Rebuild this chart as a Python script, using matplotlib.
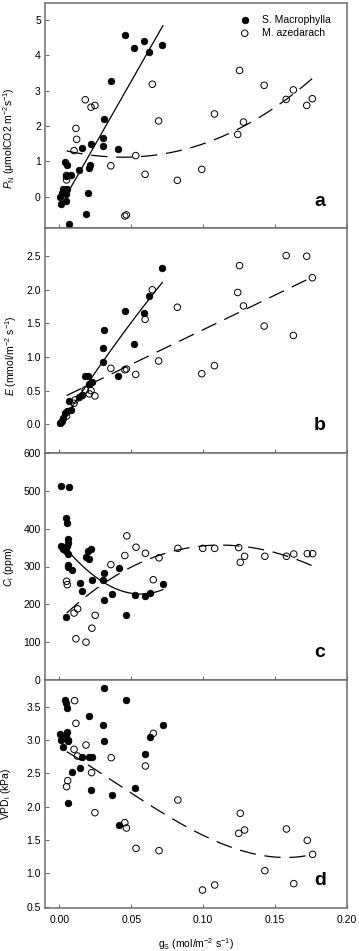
import numpy as np
import matplotlib
matplotlib.use('Agg')
import matplotlib.pyplot as plt

plt.rcParams['font.family'] = ['Liberation Sans', 'DejaVu Sans']
plt.rcParams['mathtext.fontset'] = 'custom'
plt.rcParams['mathtext.rm'] = 'Liberation Sans'
plt.rcParams['mathtext.it'] = 'Liberation Sans:italic'
plt.rcParams['mathtext.bf'] = 'Liberation Sans:bold'

# ---- panel a: PN vs gs ----
a_mac_gs = [0.0005, 0.0012, 0.0021, 0.0028, 0.0039, 0.0044, 0.0044, 0.0051, 0.0051, 0.0046,
            0.0067, 0.0078, 0.0136, 0.0155, 0.0182, 0.0201, 0.0208, 0.0215, 0.0219, 0.0300,
            0.0305, 0.0307, 0.0362, 0.0409, 0.0459, 0.0522, 0.0591, 0.0626, 0.0713]
a_mac_pn = [0.00, -0.21, 0.10, 0.20, 0.97, -0.12, 0.08, 0.88, 0.22, 0.57,
            -0.77, 0.61, 0.75, 1.37, -0.49, 0.11, 0.80, 0.90, 1.49, 1.67,
            1.42, 2.20, 3.27, 1.36, 4.58, 4.22, 4.41, 4.08, 4.29]
a_aze_gs = [0.0050, 0.0050, 0.0102, 0.0115, 0.0120, 0.0180, 0.0220, 0.0247, 0.0358, 0.0455,
            0.0466, 0.0531, 0.0596, 0.0646, 0.0690, 0.0820, 0.0990, 0.1078, 0.1240, 0.1253,
            0.1280, 0.1424, 0.1577, 0.1627, 0.1720, 0.1759]
a_aze_pn = [0.47, 0.60, 1.30, 1.93, 1.62, 2.74, 2.53, 2.58, 0.87, -0.55,
            -0.52, 1.16, 0.63, 3.18, 2.14, 0.46, 0.77, 2.34, 1.76, 3.57,
            2.11, 3.15, 2.75, 3.02, 2.58, 2.77]
a_mac_fit_x = [0.006, 0.072]
a_mac_fit_y = [0.12, 4.84]
a_aze_fit_x = [0.005, 0.040, 0.074, 0.124, 0.176]
a_aze_fit_y = [1.30, 1.09, 1.25, 1.89, 3.35]

# ---- panel b: E vs gs ----
b_mac_gs = [0.0005, 0.0010, 0.0020, 0.0028, 0.0040, 0.0050, 0.0067, 0.0080, 0.0136, 0.0155,
            0.0180, 0.0200, 0.0208, 0.0224, 0.0300, 0.0310, 0.0305, 0.0410, 0.0459, 0.0520,
            0.0590, 0.0626, 0.0716]
b_mac_e = [0.015, 0.03, 0.05, 0.09, 0.16, 0.19, 0.34, 0.21, 0.41, 0.44,
           0.71, 0.71, 0.60, 0.62, 1.14, 1.40, 0.92, 0.72, 1.68, 1.20,
           1.65, 1.91, 2.32]
b_aze_gs = [0.0050, 0.0102, 0.0110, 0.0180, 0.0208, 0.0220, 0.0247, 0.0358, 0.0455, 0.0466,
            0.0531, 0.0596, 0.0646, 0.0690, 0.0820, 0.0990, 0.1078, 0.1240, 0.1253, 0.1280,
            0.1424, 0.1577, 0.1627, 0.1720, 0.1759]
b_aze_e = [0.12, 0.31, 0.36, 0.51, 0.45, 0.50, 0.42, 0.83, 0.81, 0.82,
           0.74, 1.56, 2.00, 0.94, 1.74, 0.75, 0.87, 1.96, 2.36, 1.76,
           1.46, 2.51, 1.32, 2.50, 2.18]
b_mac_fit_x = [0.0028, 0.0305, 0.0716]
b_mac_fit_y = [0.064, 0.94, 2.11]
b_aze_fit_x = [0.005, 0.176]
b_aze_fit_y = [0.425, 2.19]

# ---- panel c: Ci vs gs ----
c_mac_gs = [0.0012, 0.0069, 0.0044, 0.0050, 0.0010, 0.0023, 0.0032, 0.0058, 0.0058, 0.0050,
            0.0044, 0.0058, 0.0062, 0.0058, 0.0085, 0.0046, 0.0143, 0.0160, 0.0185, 0.0200,
            0.0220, 0.0208, 0.0226, 0.0307, 0.0305, 0.0312, 0.0367, 0.0416, 0.0466, 0.0526,
            0.0598, 0.0633, 0.0720]
c_mac_ci = [513, 511, 427, 414, 354, 345, 345, 372, 363, 354,
            342, 334, 305, 299, 290, 166, 257, 235, 325, 341,
            347, 320, 263, 283, 265, 211, 228, 295, 172, 224,
            221, 230, 255]
c_aze_gs = [0.0050, 0.0055, 0.0102, 0.0127, 0.0115, 0.0185, 0.0226, 0.0249, 0.0358, 0.0455,
            0.0469, 0.0533, 0.0598, 0.0653, 0.0693, 0.0824, 0.0997, 0.1080, 0.1247, 0.1258,
            0.1288, 0.1429, 0.1579, 0.1630, 0.1724, 0.1761]
c_aze_ci = [261, 252, 177, 188, 109, 100, 137, 171, 305, 329,
            381, 351, 335, 265, 323, 348, 348, 348, 350, 311,
            327, 327, 327, 333, 334, 334]
c_mac_fit_x = [0.0051, 0.0316, 0.0524, 0.072]
c_mac_fit_y = [345, 256, 228, 239]
c_aze_fit_x = [0.0051, 0.0316, 0.050, 0.0767, 0.1136, 0.146, 0.1759]
c_aze_fit_y = [177, 256, 301, 336, 358, 340, 302]

# ---- panel d: VPDl vs gs ----
d_mac_gs = [0.0005, 0.0012, 0.0023, 0.0040, 0.0044, 0.0050, 0.0050, 0.0044, 0.0058, 0.0062,
            0.0058, 0.0085, 0.0143, 0.0157, 0.0208, 0.0208, 0.0226, 0.0220, 0.0312, 0.0305,
            0.0307, 0.0367, 0.0416, 0.0462, 0.0526, 0.0598, 0.0630, 0.0718]
d_mac_vpd = [3.085, 3.00, 2.90, 3.60, 3.55, 3.475, 3.125, 3.075, 3.00, 2.98,
             2.05, 2.525, 2.585, 2.74, 3.365, 2.74, 2.74, 2.25, 3.775, 3.22,
             2.98, 2.175, 1.725, 3.60, 2.285, 2.79, 3.05, 3.225]
d_aze_gs = [0.0050, 0.0058, 0.0106, 0.0102, 0.0115, 0.0125, 0.0185, 0.0224, 0.0247, 0.0360,
            0.0455, 0.0466, 0.0533, 0.0598, 0.0653, 0.0693, 0.0824, 0.0995, 0.1080, 0.1247,
            0.1258, 0.1288, 0.1429, 0.1579, 0.1630, 0.1724, 0.1761]
d_aze_vpd = [2.30, 2.39, 3.59, 2.86, 3.25, 2.76, 2.925, 2.51, 1.91, 2.735,
             1.76, 1.68, 1.375, 2.61, 3.10, 1.34, 2.10, 0.75, 0.825, 1.60,
             1.90, 1.65, 1.04, 1.665, 0.845, 1.495, 1.285]
d_aze_fit_x = [0.0051, 0.034, 0.0663, 0.0986, 0.1286, 0.1586, 0.1759]
d_aze_fit_y = [2.825, 2.43, 1.98, 1.58, 1.33, 1.24, 1.28]

x_ticks = [0.00, 0.05, 0.10, 0.15, 0.20]

fig = plt.figure(figsize=(3.59, 9.51), dpi=100)
left, width = 45 / 359, 302 / 359
boxes = [(3, 228), (228, 453), (453, 680), (680, 908)]
axes = [fig.add_axes([left, 1 - b / 951, width, (b - t) / 951]) for t, b in boxes]

spine_col = '#6e6e6e'


def fit_line(ax, kx, ky, dashed):
    coef = np.polyfit(kx, ky, len(kx) - 1 if len(kx) < 4 else 3)
    xs = np.linspace(kx[0], kx[-1], 200)
    ls = dict(color='black', lw=0.9, zorder=2)
    if dashed:
        line, = ax.plot(xs, np.polyval(coef, xs), **ls)
        line.set_dashes((13, 7))
    else:
        ax.plot(xs, np.polyval(coef, xs), **ls)


def draw_panel(ax, mx, my, zx, zy, letter, ylim, yticks, ylabel, ylab_pos):
    ax.scatter(mx, my, s=22, c='black', edgecolors='black', linewidths=0.6, zorder=3,
               label='S. Macrophylla')
    ax.scatter(zx, zy, s=22, facecolors='none', edgecolors='black', linewidths=0.7, zorder=3,
               label='M. azedarach')
    ax.set_xlim(-0.01, 0.2)
    ax.set_ylim(*ylim)
    ax.set_xticks(x_ticks)
    ax.set_yticks(yticks)
    ax.tick_params(direction='in', length=3, width=0.8, color=spine_col, labelsize=7.5, pad=3)
    ax.tick_params(axis='x', pad=5)
    for s in ax.spines.values():
        s.set_color(spine_col)
        s.set_linewidth(1.1)
    ax.set_ylabel(ylabel, fontsize=7.5)
    ax.yaxis.set_label_coords(*ylab_pos)
    ax.text(0.91, 0.12, letter, transform=ax.transAxes, fontsize=14, fontweight='bold',
            ha='center', va='center')


ax = axes[0]
draw_panel(ax, a_mac_gs, a_mac_pn, a_aze_gs, a_aze_pn, 'a', (-0.89, 5.48), [0, 1, 2, 3, 4, 5],
           r'$P_\mathrm{N}$ (μmolCO2 m$^{-2}$s$^{-1}$)', (-0.092, 0.40))
fit_line(ax, a_mac_fit_x, a_mac_fit_y, False)
fit_line(ax, a_aze_fit_x, a_aze_fit_y, True)
ax.legend(loc='upper left', bbox_to_anchor=(0.62, 0.975), frameon=False, fontsize=7.5,
          handletextpad=1.1, labelspacing=0.3, borderaxespad=0.2, handlelength=1.2)

ax = axes[1]
draw_panel(ax, b_mac_gs, b_mac_e, b_aze_gs, b_aze_e, 'b', (-0.43, 2.92),
           [0.0, 0.5, 1.0, 1.5, 2.0, 2.5], r'$E$ (mmol/m$^{-2}$ s$^{-1}$)', (-0.085, 0.43))
ax.yaxis.set_major_formatter(matplotlib.ticker.FormatStrFormatter('%.1f'))
fit_line(ax, b_mac_fit_x, b_mac_fit_y, False)
fit_line(ax, b_aze_fit_x, b_aze_fit_y, True)

ax = axes[2]
draw_panel(ax, c_mac_gs, c_mac_ci, c_aze_gs, c_aze_ci, 'c', (0, 600),
           [0, 100, 200, 300, 400, 500, 600], r'$C_\mathrm{i}$ (ppm)', (-0.095, 0.5))
fit_line(ax, c_mac_fit_x, c_mac_fit_y, False)
fit_line(ax, c_aze_fit_x, c_aze_fit_y, True)

ax = axes[3]
draw_panel(ax, d_mac_gs, d_mac_vpd, d_aze_gs, d_aze_vpd, 'd', (0.48, 3.9),
           [0.5, 1.0, 1.5, 2.0, 2.5, 3.0, 3.5], r'VPD$_\mathrm{l}$ (kPa)', (-0.105, 0.5))
ax.yaxis.set_major_formatter(matplotlib.ticker.FormatStrFormatter('%.1f'))
fit_line(ax, d_aze_fit_x, d_aze_fit_y, True)

for a in axes[:3]:
    a.tick_params(labelbottom=False)
axes[3].xaxis.set_major_formatter(matplotlib.ticker.FormatStrFormatter('%.2f'))
axes[3].set_xlabel(r'g$_\mathrm{S}$ (mol/m$^{-2}$ s$^{-1}$)', fontsize=7.5, labelpad=8)

fig.savefig('out.png', dpi=100)
